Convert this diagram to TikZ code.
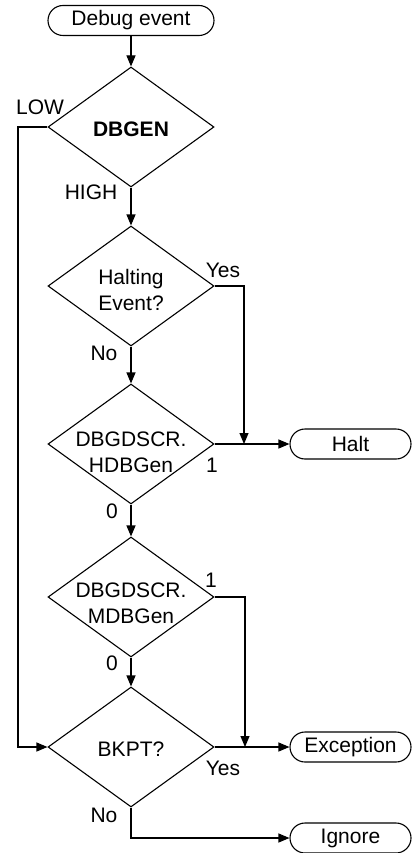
\documentclass[tikz,border=0pt]{standalone}
\usepackage{fontspec}
\setmainfont{Liberation Sans}
\usetikzlibrary{shapes.geometric,arrows.meta}
\begin{document}
\begin{tikzpicture}[x=1pt,y=-1pt,line width=1.1pt,
  every node/.style={font=\fontsize{21}{26}\selectfont},
  term/.style={draw, rounded corners=15pt, minimum height=30pt, inner sep=0pt},
  dec/.style={draw, diamond, minimum width=166pt, minimum height=120pt, inner sep=0pt},
  dtext/.style={align=center, inner sep=0pt},
  lbl/.style={anchor=base, inner sep=0pt},
  conn/.style={-{Triangle[length=11pt,width=9pt]}}]
\useasboundingbox (0,0) rectangle (417,853);
% terminals
\node[term, minimum width=166pt] (start) at (131,20.5) {Debug event};
\node[term, minimum width=121pt] (halt) at (350.5,444) {Halt};
\node[term, minimum width=121pt] (exc) at (350.5,747) {Exception};
\node[term, minimum width=121pt] (ign) at (350.5,838) {Ignore};
% decisions
\node[dec] (dbgen) at (131,127) {};
\node[dtext] (dbgent) at (131,129) {\textbf{DBGEN}};
\node[dec] (halting) at (131,286) {};
\node[dtext] (haltingt) at (131,290) {Halting\\Event?};
\node[dec] (hdb) at (131,444) {};
\node[dtext] (hdbt) at (131,452) {DBGDSCR.\\HDBGen};
\node[dec] (mdb) at (131,597) {};
\node[dtext] (mdbt) at (131,603) {DBGDSCR.\\MDBGen};
\node[dec] (bkpt) at (131,747) {};
\node[dtext] (bkptt) at (131,749) {BKPT?};
% junctions
\coordinate (jh) at (244,444);
\coordinate (je) at (245,747);
\coordinate (jl) at (18,127);
\coordinate (ji) at (131,838);
% connectors
\draw[conn] (start) -- (dbgen.north);
\draw[conn] (dbgen.south) -- (halting.north);
\draw[conn] (halting.south) -- (hdb.north);
\draw[conn] (hdb.south) -- (mdb.north);
\draw[conn] (mdb.south) -- (bkpt.north);
\draw[conn] (dbgen.west) -- (jl) |- (bkpt.west);
\draw[conn] (halting.east) -| (jh);
\draw[conn] (hdb.east) -- (halt.west);
\draw[conn] (mdb.east) -| (je);
\draw[conn] (bkpt.east) -- (exc.west);
\draw[conn] (bkpt.south) -- (ji) -- (ign.west);
% labels
\node[lbl] (l1) at (40,115) {LOW};
\node[lbl] (l2) at (91,200) {HIGH};
\node[lbl] (l3) at (223,277) {Yes};
\node[lbl] (l4) at (104,360) {No};
\node[lbl] (l5) at (212,472) {1};
\node[lbl] (l6) at (112,518) {0};
\node[lbl] (l7) at (211,587) {1};
\node[lbl] (l8) at (112,670) {0};
\node[lbl] (l9) at (223,775) {Yes};
\node[lbl] (l10) at (104,822) {No};
\end{tikzpicture}
\end{document}
